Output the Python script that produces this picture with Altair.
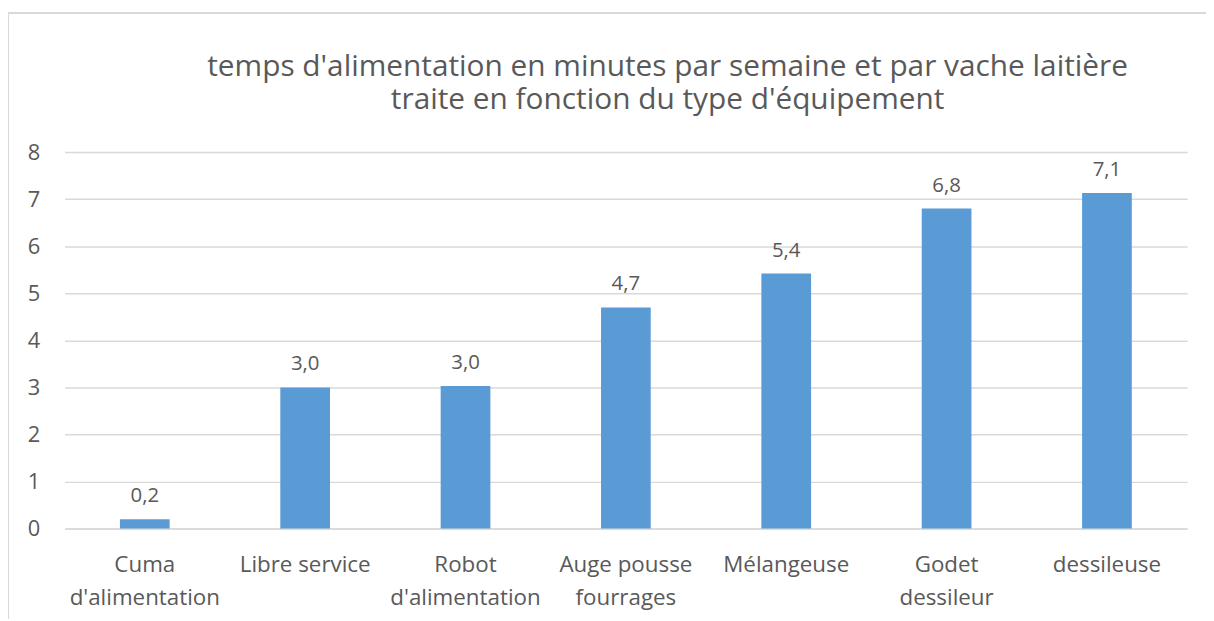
import altair as alt
import pandas as pd

categories = ["Cuma d'alimentation", "Libre service", "Robot d'alimentation",
              "Auge pousse fourrages", "Mélangeuse", "Godet dessileur", "dessileuse"]
values = [0.2, 3.0, 3.03, 4.7, 5.42, 6.8, 7.13]
label_lines = {
    "Cuma d'alimentation": ["Cuma", "d'alimentation"],
    "Libre service": ["Libre service"],
    "Robot d'alimentation": ["Robot", "d'alimentation"],
    "Auge pousse fourrages": ["Auge pousse", "fourrages"],
    "Mélangeuse": ["Mélangeuse"],
    "Godet dessileur": ["Godet", "dessileur"],
    "dessileuse": ["dessileuse"],
}
y_ticks = [0, 1, 2, 3, 4, 5, 6, 7, 8]
title_lines = ["temps d'alimentation en minutes par semaine et par vache laitière",
               "traite en fonction du type d'équipement"]

df = pd.DataFrame({"cat": categories, "v": values})

parts = []
for k, lines in label_lines.items():
    arr = "[" + ",".join("'" + l.replace("'", "\\'") + "'" for l in lines) + "]"
    parts.append(("datum.label == '" + k.replace("'", "\\'") + "'", arr))
expr = "datum.label"
for cond, arr in reversed(parts):
    expr = f"{cond} ? {arr} : ({expr})"

FONT = "Open Sans"
GRAY = "#595959"

x = alt.X("cat:N", sort=categories, title=None,
          scale=alt.Scale(paddingInner=0.69, paddingOuter=0.345),
          axis=alt.Axis(labelAngle=0, labelExpr=expr, labelFontSize=22.5,
                        labelColor=GRAY, labelFont=FONT, labelPadding=25,
                        labelLineHeight=33, ticks=False, domain=True,
                        domainColor="#D9D9D9", domainWidth=1.5,
                        labelBaseline="top"))
y = alt.Y("v:Q", title=None,
          scale=alt.Scale(domain=[0, 8], nice=False),
          axis=alt.Axis(values=y_ticks, labelFontSize=22, labelColor=GRAY,
                        labelFont=FONT, labelPadding=25, ticks=False,
                        domain=False, gridColor="#D9D9D9", gridWidth=1.5))

bars = alt.Chart(df).mark_bar(color="#5B9BD5").encode(x=x, y=y)
text = alt.Chart(df).transform_calculate(
    lab="replace(format(datum.v, '.1f'), '.', ',')"
).mark_text(baseline="bottom", dy=-13, fontSize=20.5, color=GRAY, font=FONT).encode(
    x=alt.X("cat:N", sort=categories), y="v:Q", text="lab:N")

border_left = alt.Chart(df).mark_rule(color="#D9D9D9", strokeWidth=2).encode(
    x=alt.value(-57), y=alt.value(-140), y2=alt.value(470))
border_top = alt.Chart(df).mark_rule(color="#D9D9D9", strokeWidth=2).encode(
    x=alt.value(-57), x2=alt.value(1150), y=alt.value(-140))

chart = alt.layer(bars, text, border_left, border_top).properties(
    width=1130, height=379,
    title=alt.TitleParams(title_lines, fontSize=30, font=FONT, color=GRAY,
                          fontWeight="normal", anchor="middle", dx=42,
                          offset=40, dy=144, lineHeight=34),
    autosize=alt.AutoSizeParams(type="none"),
    padding={"left": 57, "top": 143, "right": 19, "bottom": 90},
).configure_view(stroke=None)

chart.save("out.html", embed_options={"renderer": "svg", "actions": False})
